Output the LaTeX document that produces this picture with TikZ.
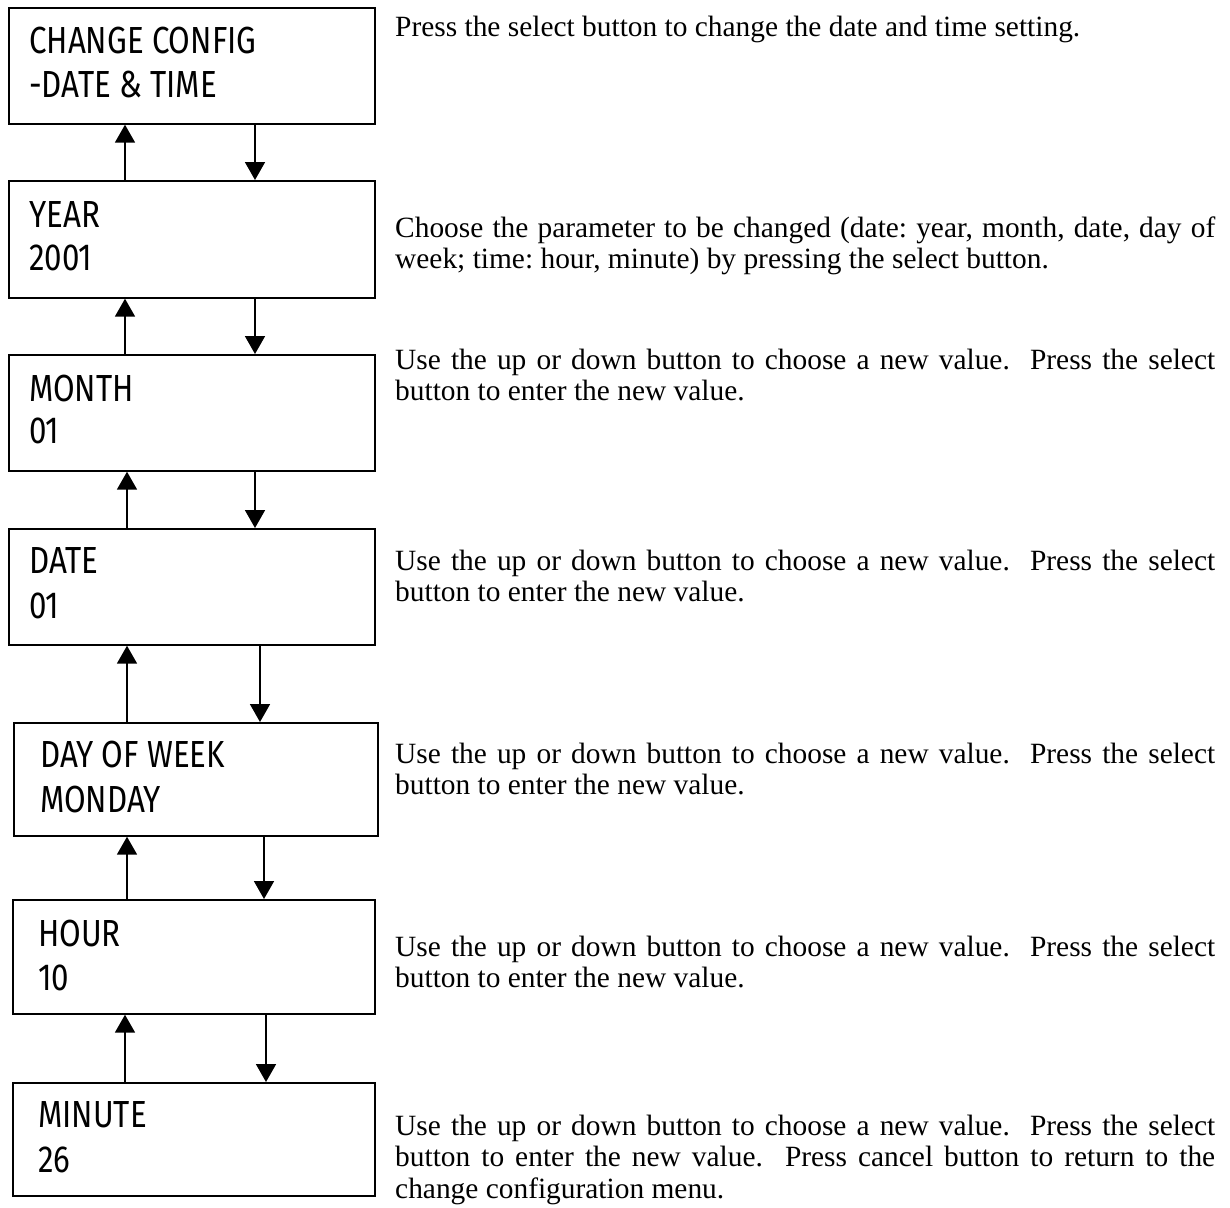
\documentclass[tikz,border=0pt]{standalone}
\usepackage{fontspec}
\usetikzlibrary{arrows.meta}
\newfontfamily\boxfont[FakeStretch=0.83]{Fira Sans}
\newfontfamily\txtfont{Liberation Serif}
\tikzset{
  box/.style={draw, line width=1.7pt, inner sep=0pt, anchor=north west},
  boxline/.style={anchor=base west, inner sep=0pt, font=\boxfont\fontsize{37.7pt}{40pt}\selectfont},
  para/.style={anchor=base west, inner sep=0pt, text width=820pt, align=justify,
    font=\txtfont\fontsize{29.4pt}{31.5pt}\selectfont\frenchspacing},
  arr/.style={line width=1.8pt, -{Triangle[length=18pt,width=20pt]}}
}
\begin{document}
\begin{tikzpicture}[x=1pt,y=-1pt]
\useasboundingbox (0,0) rectangle (1230,1207);
% boxes
\node[box, minimum width=366pt, minimum height=116pt] (b1) at (8,7) {};
\node[box, minimum width=366pt, minimum height=117pt] (b2) at (8,180) {};
\node[box, minimum width=366pt, minimum height=116pt] (b3) at (8,354) {};
\node[box, minimum width=366pt, minimum height=116pt] (b4) at (8,528) {};
\node[box, minimum width=364pt, minimum height=113pt] (b5) at (13,722) {};
\node[box, minimum width=362pt, minimum height=114pt] (b6) at (12,899) {};
\node[box, minimum width=362pt, minimum height=113pt] (b7) at (12,1082) {};
% box texts
\node[boxline] (l1a) at ([xshift=21pt,yshift=-46pt]b1.north west) {CHANGE CONFIG};
\node[boxline] (l1b) at ([xshift=21pt,yshift=-90pt]b1.north west) {-DATE \& TIME};
\node[boxline] (l2a) at ([xshift=21pt,yshift=-47pt]b2.north west) {YEAR};
\node[boxline] (l2b) at ([xshift=21pt,yshift=-90pt]b2.north west) {2001};
\node[boxline] (l3a) at ([xshift=21pt,yshift=-47pt]b3.north west) {MONTH};
\node[boxline] (l3b) at ([xshift=21pt,yshift=-89pt]b3.north west) {01};
\node[boxline] (l4a) at ([xshift=21pt,yshift=-45pt]b4.north west) {DATE};
\node[boxline] (l4b) at ([xshift=21pt,yshift=-90pt]b4.north west) {01};
\node[boxline] (l5a) at ([xshift=27pt,yshift=-45pt]b5.north west) {DAY OF WEEK};
\node[boxline] (l5b) at ([xshift=27pt,yshift=-90pt]b5.north west) {MONDAY};
\node[boxline] (l6a) at ([xshift=26pt,yshift=-47pt]b6.north west) {HOUR};
\node[boxline] (l6b) at ([xshift=26pt,yshift=-91pt]b6.north west) {10};
\node[boxline] (l7a) at ([xshift=26pt,yshift=-45pt]b7.north west) {MINUTE};
\node[boxline] (l7b) at ([xshift=26pt,yshift=-90pt]b7.north west) {26};
% arrows
\draw[arr] ([xshift=117pt]b2.north west) -- ([xshift=117pt]b1.south west);
\draw[arr] ([xshift=247pt]b1.south west) -- ([xshift=247pt]b2.north west);
\draw[arr] ([xshift=117pt]b3.north west) -- ([xshift=117pt]b2.south west);
\draw[arr] ([xshift=247pt]b2.south west) -- ([xshift=247pt]b3.north west);
\draw[arr] ([xshift=119pt]b4.north west) -- ([xshift=119pt]b3.south west);
\draw[arr] ([xshift=247pt]b3.south west) -- ([xshift=247pt]b4.north west);
\draw[arr] ([xshift=114pt]b5.north west) -- ([xshift=119pt]b4.south west);
\draw[arr] ([xshift=252pt]b4.south west) -- ([xshift=247pt]b5.north west);
\draw[arr] ([xshift=115pt]b6.north west) -- ([xshift=114pt]b5.south west);
\draw[arr] ([xshift=251pt]b5.south west) -- ([xshift=252pt]b6.north west);
\draw[arr] ([xshift=113pt]b7.north west) -- ([xshift=113pt]b6.south west);
\draw[arr] ([xshift=254pt]b6.south west) -- ([xshift=254pt]b7.north west);
% paragraphs
\node[para] (t1) at (395,37) {Press the select button to change the date and time setting.};
\node[para] (t2) at (395,237) {Choose the parameter to be changed (date: year, month, date, day of\linebreak week; time: hour, minute) by pressing the select button.};
\node[para] (t3) at (395,369) {Use the up or down button to choose a new value.\ \ Press the select\linebreak button to enter the new value.};
\node[para] (t4) at (395,570) {Use the up or down button to choose a new value.\ \ Press the select\linebreak button to enter the new value.};
\node[para] (t5) at (395,763) {Use the up or down button to choose a new value.\ \ Press the select\linebreak button to enter the new value.};
\node[para] (t6) at (395,956) {Use the up or down button to choose a new value.\ \ Press the select\linebreak button to enter the new value.};
\node[para] (t7) at (395,1135) {Use the up or down button to choose a new value.\ \ Press the select\linebreak button to enter the new value.\ \ Press cancel button to return to the\linebreak change configuration menu.};
\end{tikzpicture}
\end{document}
